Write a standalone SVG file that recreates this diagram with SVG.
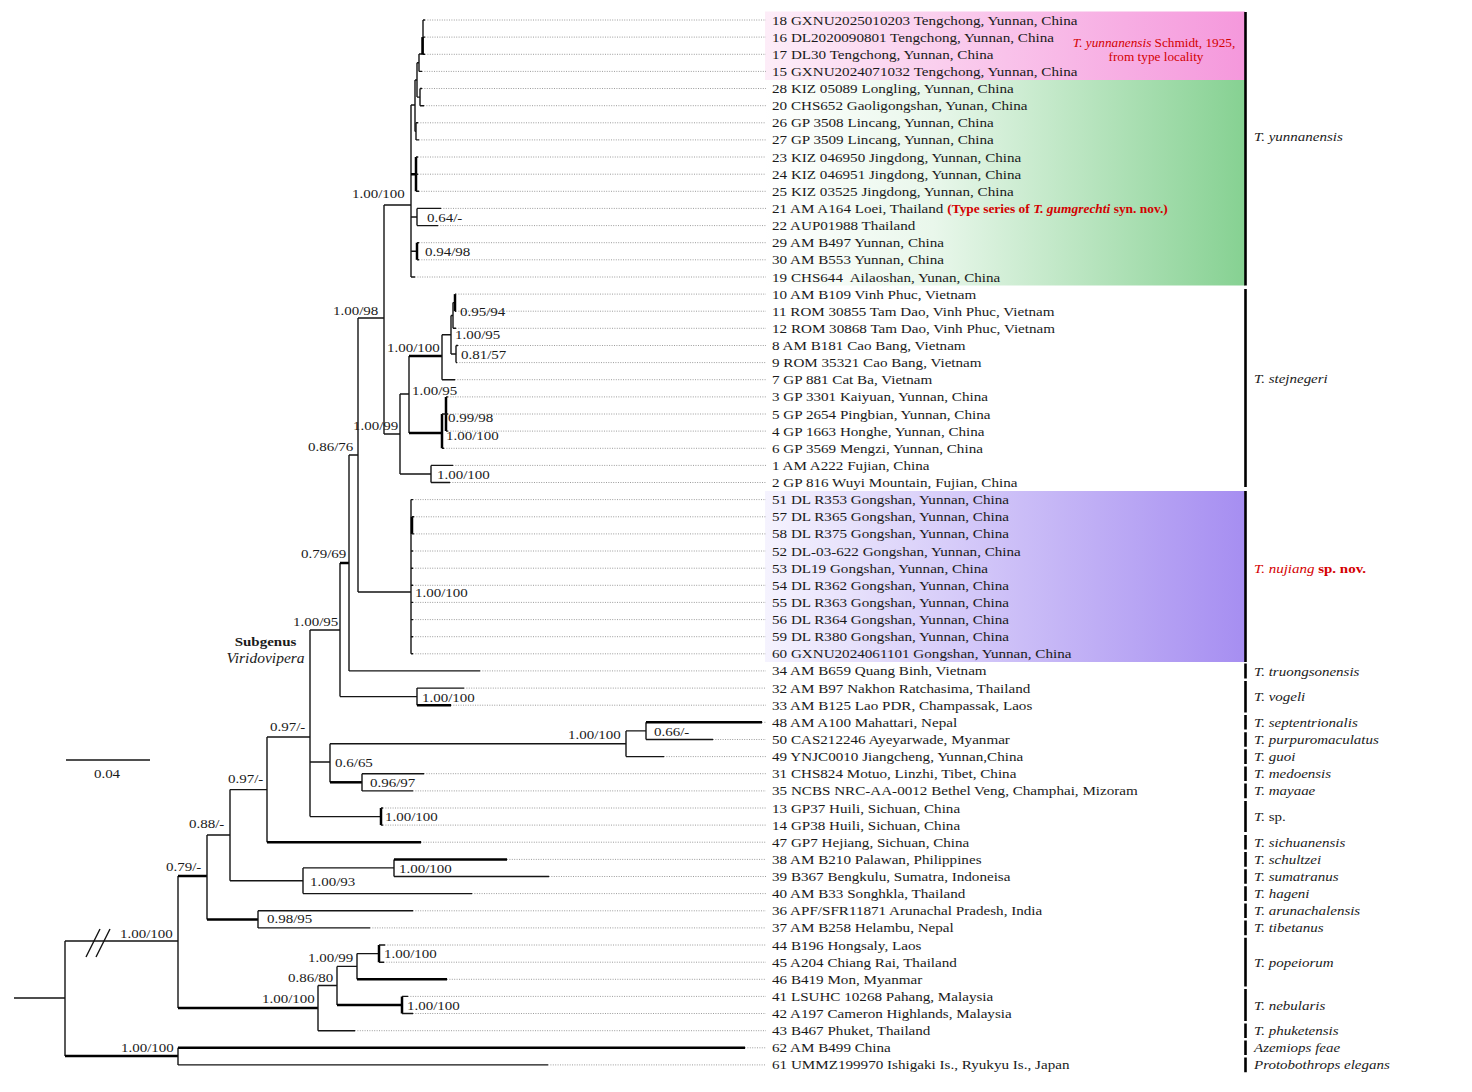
<svg xmlns="http://www.w3.org/2000/svg" width="1472" height="1092" viewBox="0 0 1472 1092">
<defs>
<linearGradient id="gPink" x1="0" y1="0" x2="1" y2="0"><stop offset="0" stop-color="#fdedf8"/><stop offset="1" stop-color="#f598dc"/></linearGradient>
<linearGradient id="gGreen" x1="0" y1="0" x2="1" y2="0"><stop offset="0" stop-color="#ffffff"/><stop offset="0.35" stop-color="#e9f7eb"/><stop offset="1" stop-color="#86d192"/></linearGradient>
<linearGradient id="gPurple" x1="0" y1="0" x2="1" y2="0"><stop offset="0" stop-color="#f5f3fe"/><stop offset="1" stop-color="#a68ef1"/></linearGradient>
<style>
.br{stroke:#151515;stroke-width:1.4;fill:none}
.tk{stroke:#000;stroke-width:2.5;fill:none}
.dot{stroke:#9c9c9c;stroke-width:1;stroke-dasharray:1 1.4;fill:none}
.bar{stroke:#000;stroke-width:2.6}
text{font-family:"Liberation Serif","Times New Roman",serif;font-size:13.5px;fill:#1a1a1a}
.it{font-style:italic}
.bd{font-weight:bold}
.red{fill:#d40000}
.note{font-size:12.4px}
.vir{font-size:14px}
</style>
</defs>
<rect width="1472" height="1092" fill="#fff"/>
<g id="highlights">
<rect x="765" y="11.5" width="480" height="68.5" fill="url(#gPink)"/>
<rect x="765" y="80" width="480" height="205.5" fill="url(#gGreen)"/>
<rect x="765" y="491" width="480" height="171" fill="url(#gPurple)"/>
</g>
<g id="branches">
<path class="br" d="M14 998H65M65 941V1056M65 941H178"/>
<path class="tk" d="M65 1056H178"/>
<path class="br" d="M178 1047.8V1064.9M178 1064.9H548"/>
<path class="tk" d="M178 1047.8H745"/>
<path class="br" d="M86 957L100 929M96 957L110 929"/>
<path class="br" d="M178 876V1008"/>
<path class="tk" d="M178 876H207M178 1008H318"/>
<path class="br" d="M318 985.5V1030.7M318 985.5H337M318 1030.7H355"/>
<path class="br" d="M337 966.4V1005M337 966.4H357"/>
<path class="tk" d="M337 1005H402"/>
<path class="br" d="M357 953.6V979.3M357 953.6H379"/>
<path class="tk" d="M357 979.3H447M379 945V962.2M402 996.4V1013.5"/>
<path class="br" d="M379 945H385M379 962.2H384M402 996.4H408M402 1013.5H413"/>
<path class="br" d="M207 835V919.4M207 835H230"/>
<path class="tk" d="M207 919.4H258"/>
<path class="br" d="M258 910.8V927.9M258 910.8H413M258 927.9H370"/>
<path class="br" d="M230 789.6V880.8M230 789.6H267M230 880.8H303"/>
<path class="br" d="M303 867.9V893.6M303 867.9H394M303 893.6H472"/>
<path class="br" d="M394 859.4V876.5M394 876.5H549"/>
<path class="tk" d="M394 859.4H507"/>
<path class="br" d="M267 737V842.2M267 737H310"/>
<path class="tk" d="M267 842.2H421"/>
<path class="br" d="M310 630V816.6M310 630H340M310 762H330M310 816.6H381"/>
<path class="tk" d="M381 808V825.1"/>
<path class="br" d="M381 808H383M381 825.1H383"/>
<path class="br" d="M330 743.8V782.3M330 743.8H626"/>
<path class="tk" d="M330 782.3H362"/>
<path class="br" d="M626 730.9V756.6M626 730.9H646M626 756.6H664"/>
<path class="br" d="M646 722.3V739.5M646 739.5H713"/>
<path class="tk" d="M646 722.3H762"/>
<path class="br" d="M362 773.7V790.9M362 773.7H424M362 790.9H413"/>
<path class="br" d="M340 563V696.6M340 696.6H417"/>
<path class="tk" d="M340 563H349"/>
<path class="br" d="M417 688.1V705.2M417 688.1H464"/>
<path class="tk" d="M417 705.2H451"/>
<path class="br" d="M349 455V670.9M349 455H358M349 670.9H480"/>
<path class="br" d="M358 318V592M358 318H384M358 592H411"/>
<path class="br" d="M411 499.6V653.8M411 499.6H413M411 551H413M411 568.2H413M411 585.3H413M411 602.4H413M411 619.6H413M411 636.7H413M411 653.8H413"/>
<path class="tk" d="M412 516.8V533.9"/>
<path class="br" d="M412 516.8H414M412 533.9H414"/>
<path class="br" d="M384 205V434M384 205H411M384 434H400"/>
<path class="br" d="M400 394V474M400 394H409M400 474H431"/>
<path class="br" d="M431 465.4V482.5M431 465.4H453M431 482.5H450"/>
<path class="br" d="M409 356V433"/>
<path class="tk" d="M409 356H442M409 433H442"/>
<path class="br" d="M442 334.8V379.7M442 334.8H451M442 379.7H455"/>
<path class="br" d="M451 315.5V354M451 315.5H453M451 354H456"/>
<path class="br" d="M456 345.5V362.6M456 345.5H458M456 362.6H457"/>
<path class="br" d="M453 302.6V328.3M453 302.6H455M453 328.3H456"/>
<path class="tk" d="M455 294.1V311.2"/>
<path class="br" d="M455 294.1H456M455 311.2H456"/>
<path class="tk" d="M442 414V448.3M446 396.9V431.1"/>
<path class="br" d="M442 414H446M442 448.3H444M446 396.9H448M446 414H448M446 431.1H448"/>
<path class="br" d="M411 105V277M411 105H415M411 217H417M411 251.3H417M411 277H415"/>
<path class="tk" d="M411 174.2H416M416 157V191.3"/>
<path class="br" d="M416 157H418M416 174.2H418M416 191.3H419"/>
<path class="br" d="M415 80V131.4M415 80H417M415 131.4H416"/>
<path class="br" d="M416 122.8V139.9M416 122.8H418M416 139.9H419"/>
<path class="br" d="M417 62.8V97.1M417 62.8H419M417 97.1H420"/>
<path class="br" d="M420 88.5V105.7M420 88.5H422M420 105.7H424"/>
<path class="br" d="M419 54V71.4M419 54H423M419 71.4H422"/>
<path class="br" d="M423 20V54.3M423 20H425M423 37.1H425M423 54.3H425"/>
<path class="tk" d="M422.5 37.1V54.3"/>
<path class="br" d="M417 208.4V225.6M417 208.4H441M417 225.6H438"/>
<path class="tk" d="M417 242.7V259.8"/>
<path class="br" d="M417 242.7H419M417 259.8H419"/>
</g>
<g id="leaders">
<path class="dot" d="M425 20H766M425 37.1H766M425 54.3H766M422 71.4H766M422 88.5H766M424 105.7H766M418 122.8H766M419 139.9H766M418 157H766M418 174.2H766M419 191.3H766M441 208.4H766M438 225.6H766M419 242.7H766M419 259.8H766M415 277H766"/>
<path class="dot" d="M456 294.1H766M456 311.2H766M456 328.3H766M458 345.5H766M457 362.6H766M455 379.7H766M448 396.9H766M448 414H766M448 431.1H766M444 448.3H766M453 465.4H766M450 482.5H766"/>
<path class="dot" d="M413 499.6H766M414 516.8H766M414 533.9H766M413 551H766M413 568.2H766M413 585.3H766M413 602.4H766M413 619.6H766M413 636.7H766M413 653.8H766"/>
<path class="dot" d="M480 670.9H766M464 688.1H766M451 705.2H766M762 722.3H766M713 739.5H766M664 756.6H766M424 773.7H766M413 790.9H766M383 808H766M383 825.1H766M421 842.2H766M507 859.4H766M549 876.5H766M472 893.6H766M413 910.8H766M370 927.9H766M385 945H766M384 962.2H766M447 979.3H766M408 996.4H766M413 1013.5H766M355 1030.7H766M745 1047.8H766M548 1064.9H766"/>
</g>
<g id="tips">
<g id="tip18"><text transform="translate(772 24.5) scale(1.12 1)">18 GXNU2025010203 Tengchong, Yunnan, China</text></g>
<g id="tip16"><text transform="translate(772 41.6) scale(1.12 1)">16 DL2020090801 Tengchong, Yunnan, China</text></g>
<g id="tip17"><text transform="translate(772 58.8) scale(1.12 1)">17 DL30 Tengchong, Yunnan, China</text></g>
<g id="tip15"><text transform="translate(772 75.9) scale(1.12 1)">15 GXNU2024071032 Tengchong, Yunnan, China</text></g>
<g id="tip28"><text transform="translate(772 93) scale(1.12 1)">28 KIZ 05089 Longling, Yunnan, China</text></g>
<g id="tip20"><text transform="translate(772 110.2) scale(1.12 1)">20 CHS652 Gaoligongshan, Yunan, China</text></g>
<g id="tip26"><text transform="translate(772 127.3) scale(1.12 1)">26 GP 3508 Lincang, Yunnan, China</text></g>
<g id="tip27"><text transform="translate(772 144.4) scale(1.12 1)">27 GP 3509 Lincang, Yunnan, China</text></g>
<g id="tip23"><text transform="translate(772 161.5) scale(1.12 1)">23 KIZ 046950 Jingdong, Yunnan, China</text></g>
<g id="tip24"><text transform="translate(772 178.7) scale(1.12 1)">24 KIZ 046951 Jingdong, Yunnan, China</text></g>
<g id="tip25"><text transform="translate(772 195.8) scale(1.12 1)">25 KIZ 03525 Jingdong, Yunnan, China</text></g>
<g id="tip21"><text transform="translate(772 212.9) scale(1.12 1)">21 AM A164 Loei, Thailand <tspan class="red bd" font-size="12">(Type series of <tspan class="it">T. gumgrechti</tspan> syn. nov.)</tspan></text></g>
<g id="tip22"><text transform="translate(772 230.1) scale(1.12 1)">22 AUP01988 Thailand</text></g>
<g id="tip29"><text transform="translate(772 247.2) scale(1.12 1)">29 AM B497 Yunnan, China</text></g>
<g id="tip30"><text transform="translate(772 264.3) scale(1.12 1)">30 AM B553 Yunnan, China</text></g>
<g id="tip19"><text transform="translate(772 281.5) scale(1.12 1)">19 CHS644&#160; Ailaoshan, Yunan, China</text></g>
<g id="tip10"><text transform="translate(772 298.6) scale(1.12 1)">10 AM B109 Vinh Phuc, Vietnam</text></g>
<g id="tip11"><text transform="translate(772 315.7) scale(1.12 1)">11 ROM 30855 Tam Dao, Vinh Phuc, Vietnam</text></g>
<g id="tip12"><text transform="translate(772 332.8) scale(1.12 1)">12 ROM 30868 Tam Dao, Vinh Phuc, Vietnam</text></g>
<g id="tip8"><text transform="translate(772 350) scale(1.12 1)">8 AM B181 Cao Bang, Vietnam</text></g>
<g id="tip9"><text transform="translate(772 367.1) scale(1.12 1)">9 ROM 35321 Cao Bang, Vietnam</text></g>
<g id="tip7"><text transform="translate(772 384.2) scale(1.12 1)">7 GP 881 Cat Ba, Vietnam</text></g>
<g id="tip3"><text transform="translate(772 401.4) scale(1.12 1)">3 GP 3301 Kaiyuan, Yunnan, China</text></g>
<g id="tip5"><text transform="translate(772 418.5) scale(1.12 1)">5 GP 2654 Pingbian, Yunnan, China</text></g>
<g id="tip4"><text transform="translate(772 435.6) scale(1.12 1)">4 GP 1663 Honghe, Yunnan, China</text></g>
<g id="tip6"><text transform="translate(772 452.8) scale(1.12 1)">6 GP 3569 Mengzi, Yunnan, China</text></g>
<g id="tip1"><text transform="translate(772 469.9) scale(1.12 1)">1 AM A222 Fujian, China</text></g>
<g id="tip2"><text transform="translate(772 487) scale(1.12 1)">2 GP 816 Wuyi Mountain, Fujian, China</text></g>
<g id="tip51"><text transform="translate(772 504.1) scale(1.12 1)">51 DL R353 Gongshan, Yunnan, China</text></g>
<g id="tip57"><text transform="translate(772 521.3) scale(1.12 1)">57 DL R365 Gongshan, Yunnan, China</text></g>
<g id="tip58"><text transform="translate(772 538.4) scale(1.12 1)">58 DL R375 Gongshan, Yunnan, China</text></g>
<g id="tip52"><text transform="translate(772 555.5) scale(1.12 1)">52 DL-03-622 Gongshan, Yunnan, China</text></g>
<g id="tip53"><text transform="translate(772 572.7) scale(1.12 1)">53 DL19 Gongshan, Yunnan, China</text></g>
<g id="tip54"><text transform="translate(772 589.8) scale(1.12 1)">54 DL R362 Gongshan, Yunnan, China</text></g>
<g id="tip55"><text transform="translate(772 606.9) scale(1.12 1)">55 DL R363 Gongshan, Yunnan, China</text></g>
<g id="tip56"><text transform="translate(772 624.1) scale(1.12 1)">56 DL R364 Gongshan, Yunnan, China</text></g>
<g id="tip59"><text transform="translate(772 641.2) scale(1.12 1)">59 DL R380 Gongshan, Yunnan, China</text></g>
<g id="tip60"><text transform="translate(772 658.3) scale(1.12 1)">60 GXNU2024061101 Gongshan, Yunnan, China</text></g>
<g id="tip34"><text transform="translate(772 675.4) scale(1.12 1)">34 AM B659 Quang Binh, Vietnam</text></g>
<g id="tip32"><text transform="translate(772 692.6) scale(1.12 1)">32 AM B97 Nakhon Ratchasima, Thailand</text></g>
<g id="tip33"><text transform="translate(772 709.7) scale(1.12 1)">33 AM B125 Lao PDR, Champassak, Laos</text></g>
<g id="tip48"><text transform="translate(772 726.8) scale(1.12 1)">48 AM A100 Mahattari, Nepal</text></g>
<g id="tip50"><text transform="translate(772 744) scale(1.12 1)">50 CAS212246 Ayeyarwade, Myanmar</text></g>
<g id="tip49"><text transform="translate(772 761.1) scale(1.12 1)">49 YNJC0010 Jiangcheng, Yunnan,China</text></g>
<g id="tip31"><text transform="translate(772 778.2) scale(1.12 1)">31 CHS824 Motuo, Linzhi, Tibet, China</text></g>
<g id="tip35"><text transform="translate(772 795.4) scale(1.12 1)">35 NCBS NRC-AA-0012 Bethel Veng, Champhai, Mizoram</text></g>
<g id="tip13"><text transform="translate(772 812.5) scale(1.12 1)">13 GP37 Huili, Sichuan, China</text></g>
<g id="tip14"><text transform="translate(772 829.6) scale(1.12 1)">14 GP38 Huili, Sichuan, China</text></g>
<g id="tip47"><text transform="translate(772 846.7) scale(1.12 1)">47 GP7 Hejiang, Sichuan, China</text></g>
<g id="tip38"><text transform="translate(772 863.9) scale(1.12 1)">38 AM B210 Palawan, Philippines</text></g>
<g id="tip39"><text transform="translate(772 881) scale(1.12 1)">39 B367 Bengkulu, Sumatra, Indoneisa</text></g>
<g id="tip40"><text transform="translate(772 898.1) scale(1.12 1)">40 AM B33 Songhkla, Thailand</text></g>
<g id="tip36"><text transform="translate(772 915.3) scale(1.12 1)">36 APF/SFR11871 Arunachal Pradesh, India</text></g>
<g id="tip37"><text transform="translate(772 932.4) scale(1.12 1)">37 AM B258 Helambu, Nepal</text></g>
<g id="tip44"><text transform="translate(772 949.5) scale(1.12 1)">44 B196 Hongsaly, Laos</text></g>
<g id="tip45"><text transform="translate(772 966.7) scale(1.12 1)">45 A204 Chiang Rai, Thailand</text></g>
<g id="tip46"><text transform="translate(772 983.8) scale(1.12 1)">46 B419 Mon, Myanmar</text></g>
<g id="tip41"><text transform="translate(772 1000.9) scale(1.12 1)">41 LSUHC 10268 Pahang, Malaysia</text></g>
<g id="tip42"><text transform="translate(772 1018) scale(1.12 1)">42 A197 Cameron Highlands, Malaysia</text></g>
<g id="tip43"><text transform="translate(772 1035.2) scale(1.12 1)">43 B467 Phuket, Thailand</text></g>
<g id="tip62"><text transform="translate(772 1052.3) scale(1.12 1)">62 AM B499 China</text></g>
<g id="tip61"><text transform="translate(772 1069.4) scale(1.12 1)">61 UMMZ199970 Ishigaki Is., Ryukyu Is., Japan</text></g>
</g>
<g id="annotation-type-locality">
<text class="red note" text-anchor="middle" transform="translate(1154 47) scale(1.07 1)"><tspan class="it">T. yunnanensis</tspan> Schmidt, 1925,</text>
<text class="red note" text-anchor="middle" transform="translate(1156 61) scale(1.07 1)">from type locality</text>
</g>
<g id="supports">
<text transform="translate(352 198) scale(1.11 1)">1.00/100</text>
<text transform="translate(427 221.5) scale(1.11 1)">0.64/-</text>
<text transform="translate(425 255.5) scale(1.11 1)">0.94/98</text>
<text transform="translate(333 315) scale(1.11 1)">1.00/98</text>
<text transform="translate(460 316) scale(1.11 1)">0.95/94</text>
<text transform="translate(455 339) scale(1.11 1)">1.00/95</text>
<text transform="translate(387 352) scale(1.11 1)">1.00/100</text>
<text transform="translate(461 359) scale(1.11 1)">0.81/57</text>
<text transform="translate(412 395) scale(1.11 1)">1.00/95</text>
<text transform="translate(448 422) scale(1.11 1)">0.99/98</text>
<text transform="translate(353 430) scale(1.11 1)">1.00/99</text>
<text transform="translate(446 440) scale(1.11 1)">1.00/100</text>
<text transform="translate(308 451) scale(1.11 1)">0.86/76</text>
<text transform="translate(437 478.5) scale(1.11 1)">1.00/100</text>
<text transform="translate(301 558) scale(1.11 1)">0.79/69</text>
<text transform="translate(415 597) scale(1.11 1)">1.00/100</text>
<text transform="translate(293 626) scale(1.11 1)">1.00/95</text>
<text transform="translate(422 702) scale(1.11 1)">1.00/100</text>
<text transform="translate(270 731) scale(1.11 1)">0.97/-</text>
<text transform="translate(568 739) scale(1.11 1)">1.00/100</text>
<text transform="translate(654 736) scale(1.11 1)">0.66/-</text>
<text transform="translate(335 767) scale(1.11 1)">0.6/65</text>
<text transform="translate(228 783) scale(1.11 1)">0.97/-</text>
<text transform="translate(370 787) scale(1.11 1)">0.96/97</text>
<text transform="translate(385 821) scale(1.11 1)">1.00/100</text>
<text transform="translate(189 828) scale(1.11 1)">0.88/-</text>
<text transform="translate(166 871) scale(1.11 1)">0.79/-</text>
<text transform="translate(399 873) scale(1.11 1)">1.00/100</text>
<text transform="translate(310 886) scale(1.11 1)">1.00/93</text>
<text transform="translate(267 923) scale(1.11 1)">0.98/95</text>
<text transform="translate(120 938) scale(1.11 1)">1.00/100</text>
<text transform="translate(308 962) scale(1.11 1)">1.00/99</text>
<text transform="translate(384 958) scale(1.11 1)">1.00/100</text>
<text transform="translate(288 982) scale(1.11 1)">0.86/80</text>
<text transform="translate(262 1003) scale(1.11 1)">1.00/100</text>
<text transform="translate(407 1010) scale(1.11 1)">1.00/100</text>
<text transform="translate(121 1052) scale(1.11 1)">1.00/100</text>
</g>
<g id="subgenus">
<text class="bd" text-anchor="middle" transform="translate(265.5 646) scale(1.11 1)">Subgenus</text>
<text class="it vir" text-anchor="middle" transform="translate(265.5 663) scale(1.11 1)">Viridovipera</text>
</g>
<g id="scalebar">
<path class="br" d="M66 760H150"/>
<text text-anchor="middle" transform="translate(107 777.5) scale(1.11 1)">0.04</text>
</g>
<g id="clade-bars">
<path class="bar" d="M1245.5 12V285.5M1245.5 289V487M1245.5 491V662M1245.5 663.5V678.5M1245.5 681V712.5M1245.5 715V729.6M1245.5 732.2V746.8M1245.5 749.3V763.9M1245.5 766.4V781M1245.5 783.6V798.2M1245.5 801V832M1245.5 834.9V849.5M1245.5 852.1V866.7M1245.5 869.2V883.8M1245.5 886.3V900.9M1245.5 903.5V918.1M1245.5 920.6V935.2M1245.5 937.7V986.5M1245.5 989V1021M1245.5 1023.4V1038M1245.5 1040.5V1055.1M1245.5 1057.6V1072.2"/>
</g>
<g id="clade-labels" class="it">
<text transform="translate(1254 140.5) scale(1.11 1)">T. yunnanensis</text>
<text transform="translate(1254 382.5) scale(1.11 1)">T. stejnegeri</text>
<text class="red" transform="translate(1254 572.5) scale(1.11 1)">T. nujiang<tspan class="bd" font-style="normal"> sp. nov.</tspan></text>
<text transform="translate(1254 675.5) scale(1.11 1)">T. truongsonensis</text>
<text transform="translate(1254 700.5) scale(1.11 1)">T. vogeli</text>
<text transform="translate(1254 726.8) scale(1.11 1)">T. septentrionalis</text>
<text transform="translate(1254 744) scale(1.11 1)">T. purpuromaculatus</text>
<text transform="translate(1254 761) scale(1.11 1)">T. guoi</text>
<text transform="translate(1254 778) scale(1.11 1)">T. medoensis</text>
<text transform="translate(1254 795.4) scale(1.11 1)">T. mayaae</text>
<text transform="translate(1254 821) scale(1.11 1)">T.<tspan font-style="normal"> sp.</tspan></text>
<text transform="translate(1254 846.7) scale(1.11 1)">T. sichuanensis</text>
<text transform="translate(1254 864) scale(1.11 1)">T. schultzei</text>
<text transform="translate(1254 881) scale(1.11 1)">T. sumatranus</text>
<text transform="translate(1254 898) scale(1.11 1)">T. hageni</text>
<text transform="translate(1254 915.3) scale(1.11 1)">T. arunachalensis</text>
<text transform="translate(1254 932.4) scale(1.11 1)">T. tibetanus</text>
<text transform="translate(1254 966.7) scale(1.11 1)">T. popeiorum</text>
<text transform="translate(1254 1009.5) scale(1.11 1)">T. nebularis</text>
<text transform="translate(1254 1035.2) scale(1.11 1)">T. phuketensis</text>
<text transform="translate(1254 1052.3) scale(1.11 1)">Azemiops feae</text>
<text transform="translate(1254 1069.4) scale(1.11 1)">Protobothrops elegans</text>
</g>
</svg>
